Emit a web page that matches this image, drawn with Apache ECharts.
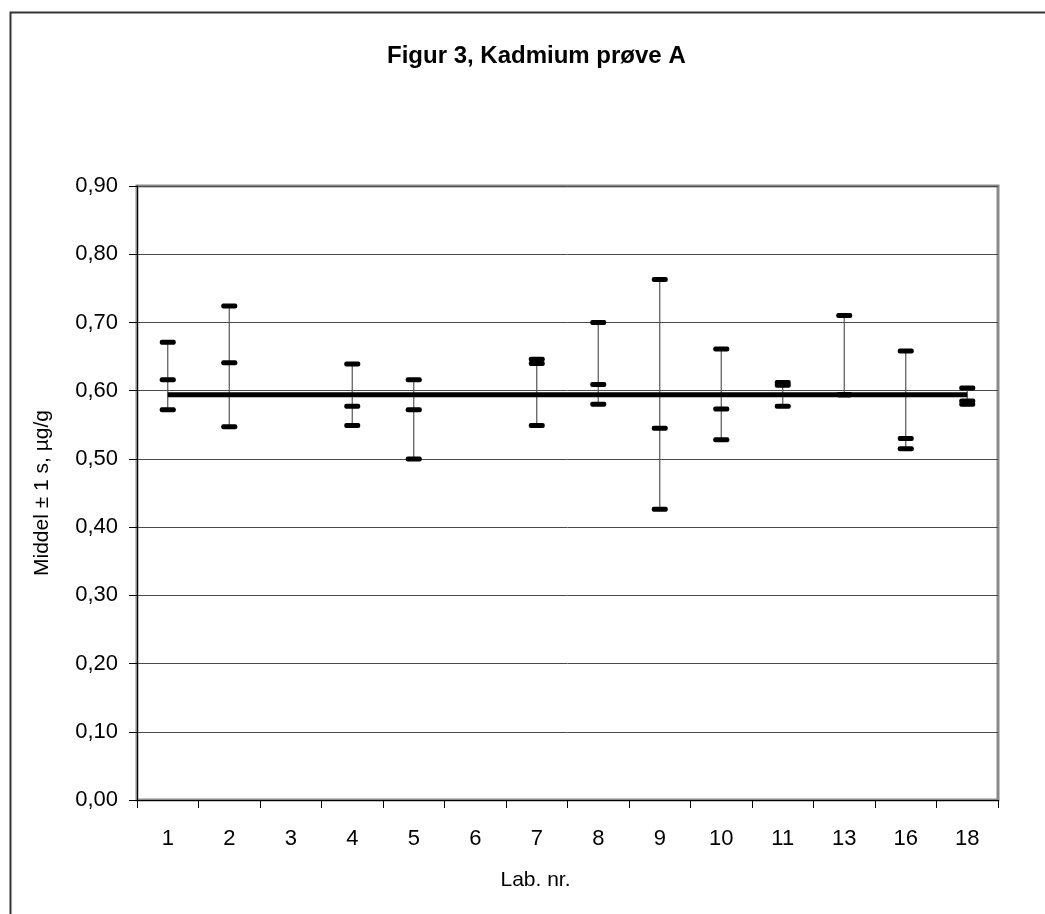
<!DOCTYPE html>
<html>
<head>
<meta charset="utf-8">
<script src="https://cdn.jsdelivr.net/npm/echarts@6/dist/echarts.min.js"></script>
<style>
html,body{margin:0;padding:0;background:#fff;}
#chart{width:1045px;height:914px;}
</style>
</head>
<body>
<div id="chart"></div>
<script>
// Data
const labs = ['1','2','3','4','5','6','7','8','9','10','11','13','16','18'];
const highValues = [0.671,0.724,null,0.639,0.616,null,0.646,0.700,0.763,0.661,0.612,0.710,0.658,0.604];
const meanValues = [0.616,0.641,null,0.577,0.572,null,0.640,0.609,0.545,0.573,0.608,0.594,0.530,0.585];
const lowValues  = [0.572,0.547,null,0.549,0.500,null,0.549,0.580,0.426,0.528,0.577,0.594,0.515,0.580];
const refValues  = [0.594,0.594,0.594,0.594,0.594,0.594,0.594,0.594,0.594,0.594,0.594,0.594,0.594,0.594];
const yTicks = ['0,00','0,10','0,20','0,30','0,40','0,50','0,60','0,70','0,80','0,90'];

const FONT = "'Liberation Sans', Arial, sans-serif";
const errData = labs.map((l, i) => [i, lowValues[i], meanValues[i], highValues[i]]).filter(d => d[1] != null);

const chart = echarts.init(document.getElementById('chart'), null, {renderer: 'canvas'});
chart.setOption({
  animation: false,
  backgroundColor: '#fff',
  title: {
    text: 'Figur 3, Kadmium prøve A',
    left: 382, top: 39,
    textStyle: {fontFamily: FONT, fontWeight: 'bold', fontSize: 24, color: '#000'}
  },
  graphic: [{
    type: 'rect', left: 8, top: 10, silent: true,
    shape: {width: 1100, height: 1000},
    style: {fill: null, stroke: '#333', lineWidth: 2}
  }],
  grid: {
    left: 137, right: 47, top: 186, bottom: 114,
    show: true, borderColor: '#8a8a8a', borderWidth: 3, backgroundColor: '#fff'
  },
  xAxis: {
    type: 'category', data: labs, boundaryGap: true,
    name: 'Lab. nr.', nameLocation: 'middle', nameGap: 70,
    nameTextStyle: {fontFamily: FONT, fontSize: 21, color: '#000', padding: [0, 64, 0, 0]},
    axisLine: {show: true, lineStyle: {color: '#000', width: 1}},
    axisTick: {show: true, interval: 0, length: 8, lineStyle: {color: '#000'}},
    axisLabel: {interval: 0, margin: 28, fontFamily: FONT, fontSize: 22, color: '#000'},
    splitLine: {show: false}
  },
  yAxis: {
    type: 'value', min: 0, max: 0.9, interval: 0.1,
    name: 'Middel ± 1 s, µg/g', nameLocation: 'middle', nameGap: 84, nameRotate: 90,
    nameTextStyle: {fontFamily: FONT, fontSize: 21, color: '#000'},
    axisLine: {show: true, lineStyle: {color: '#000', width: 1}},
    axisTick: {show: true, length: 8, lineStyle: {color: '#000'}},
    axisLabel: {
      margin: 19, fontFamily: FONT, fontSize: 22, color: '#000',
      formatter: v => yTicks[Math.round(v * 10)]
    },
    splitLine: {show: true, lineStyle: {color: '#4a4a4a', width: 1}}
  },
  series: [
    {
      type: 'custom', z: 3,
      data: errData,
      encode: {x: 0, y: [1, 2, 3]},
      renderItem: function (params, api) {
        const x = api.value(0);
        const pl = api.coord([x, api.value(1)]);
        const pm = api.coord([x, api.value(2)]);
        const ph = api.coord([x, api.value(3)]);
        const w = 16, h = 5;
        const mk = p => ({type: 'rect', shape: {x: p[0] - w / 2, y: p[1] - h / 2, width: w, height: h, r: 2}, style: {fill: '#000'}});
        return {
          type: 'group',
          children: [
            {type: 'line', shape: {x1: pl[0], y1: pl[1], x2: ph[0], y2: ph[1]}, style: {stroke: '#555', lineWidth: 1.2}},
            mk(ph), mk(pm), mk(pl)
          ]
        };
      }
    },
    {
      type: 'line', z: 4, data: refValues, symbol: 'none',
      lineStyle: {color: '#000', width: 5}
    }
  ]
});
</script>
</body>
</html>
